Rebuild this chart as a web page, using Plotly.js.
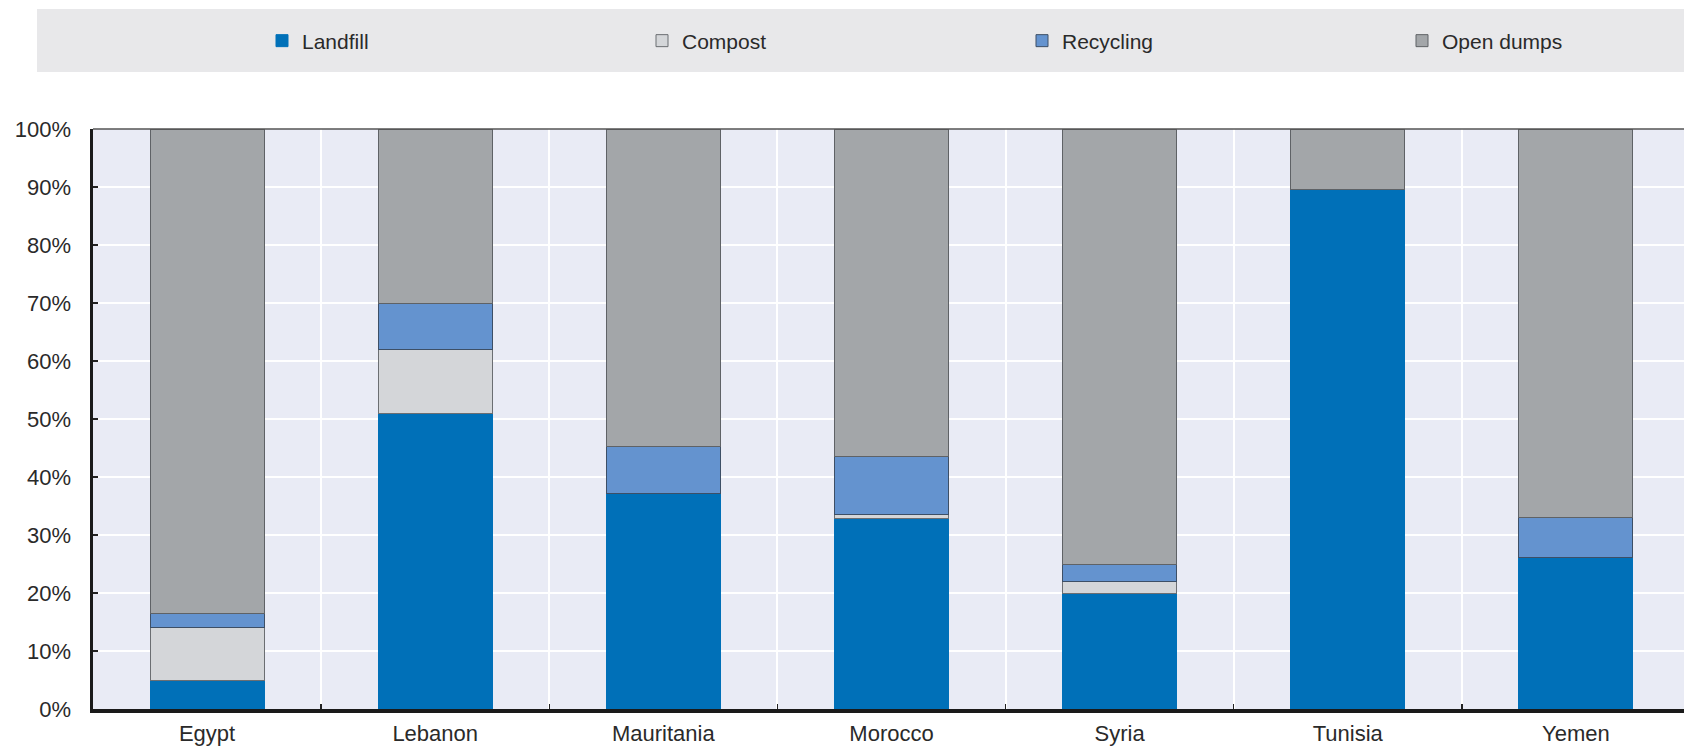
<!DOCTYPE html>
<html>
<head>
<meta charset="utf-8">
<script src="https://cdn.plot.ly/plotly-3.0.1.min.js"></script>
<style>
  html, body { margin: 0; padding: 0; background: #ffffff; overflow: hidden; }
  #chart { width: 1692px; height: 749px; }
</style>
</head>
<body>
<div id="chart"></div>
<script>
// Municipal waste treatment shares by country (%)
const countries = ["Egypt", "Lebanon", "Mauritania", "Morocco", "Syria", "Tunisia", "Yemen"];
const landfill  = [5.0, 51.0, 37.2, 32.8, 20.0, 89.5, 26.2];
const compost   = [9.0, 11.0, 0.0, 0.8, 2.0, 0.0, 0.0];
const recycling = [2.5, 8.0, 8.0, 10.0, 3.0, 0.0, 6.8];
const openDumps = [83.5, 30.0, 54.8, 56.4, 75.0, 10.5, 67.0];
const seriesNames = ["Landfill", "Compost", "Recycling", "Open dumps"];

const fillColors = ["#0070B8", "#D4D6D9", "#6493CF", "#A3A6A9"];
const edgeColors = ["#0070B8", "#6b6e72", "#3d4f66", "#5f6266"];
const seriesValues = [landfill, compost, recycling, openDumps];

const traces = seriesNames.map((name, i) => ({
  type: "bar",
  name: name,
  x: countries,
  y: seriesValues[i],
  marker: { color: fillColors[i], line: { color: edgeColors[i], width: 1 } },
  hoverinfo: "x+y+name"
}));

const W = 1692, H = 749;
const mL = 93, mR = 2, mT = 129, mB = 40;
const plotW = W - mL - mR, plotH = H - mT - mB;

const labelFont = { family: "Liberation Sans, Arial, sans-serif", size: 22, color: "#2a2a2a" };

const layout = {
  width: W,
  height: H,
  margin: { l: mL, r: mR, t: mT, b: mB, pad: 0 },
  barmode: "stack",
  bargap: 0.5,
  paper_bgcolor: "#ffffff",
  plot_bgcolor: "#E9EBF5",
  font: labelFont,
  showlegend: true,
  legend: {
    orientation: "h",
    traceorder: "normal",
    xref: "container", yref: "container",
    x: 262 / W, xanchor: "left",
    y: 1 - 41 / H, yanchor: "middle",
    entrywidth: 335, entrywidthmode: "pixels",
    itemwidth: 30,
    bgcolor: "rgba(0,0,0,0)",
    font: { family: "Liberation Sans, Arial, sans-serif", size: 21, color: "#2a2a2a" }
  },
  xaxis: {
    type: "category",
    range: [-0.5, 6.5],
    tickson: "boundaries",
    ticks: "inside",
    ticklen: 5,
    tickwidth: 1.5,
    tickcolor: "#222222",
    showgrid: true,
    gridcolor: "#ffffff",
    gridwidth: 2,
    showline: true,
    linecolor: "#1a1a1a",
    linewidth: 3.5,
    ticklabelstandoff: 2,
    tickfont: labelFont,
    fixedrange: true
  },
  yaxis: {
    range: [0, 100],
    dtick: 10,
    ticksuffix: "%",
    ticks: "inside",
    ticklen: 5,
    tickwidth: 1.5,
    tickcolor: "#222222",
    showgrid: true,
    gridcolor: "#ffffff",
    gridwidth: 2,
    showline: true,
    linecolor: "#1a1a1a",
    linewidth: 3.5,
    zeroline: false,
    ticklabelstandoff: 14,
    tickfont: labelFont,
    fixedrange: true
  },
  shapes: [
    // legend band
    {
      type: "rect", layer: "below",
      xref: "paper", yref: "paper",
      x0: (37 - mL) / plotW, x1: 1.01,
      y0: (H - mB - 72) / plotH, y1: (H - mB - 9) / plotH,
      fillcolor: "#E8E8EA", line: { width: 0 }
    },
    // top border of the plot frame
    {
      type: "line", layer: "above",
      xref: "paper", yref: "paper",
      x0: 0, x1: 1, y0: 1, y1: 1,
      line: { color: "#555555", width: 1.5 }
    }
  ]
};

Plotly.newPlot("chart", traces, layout, { displayModeBar: false, staticPlot: true });
</script>
</body>
</html>
